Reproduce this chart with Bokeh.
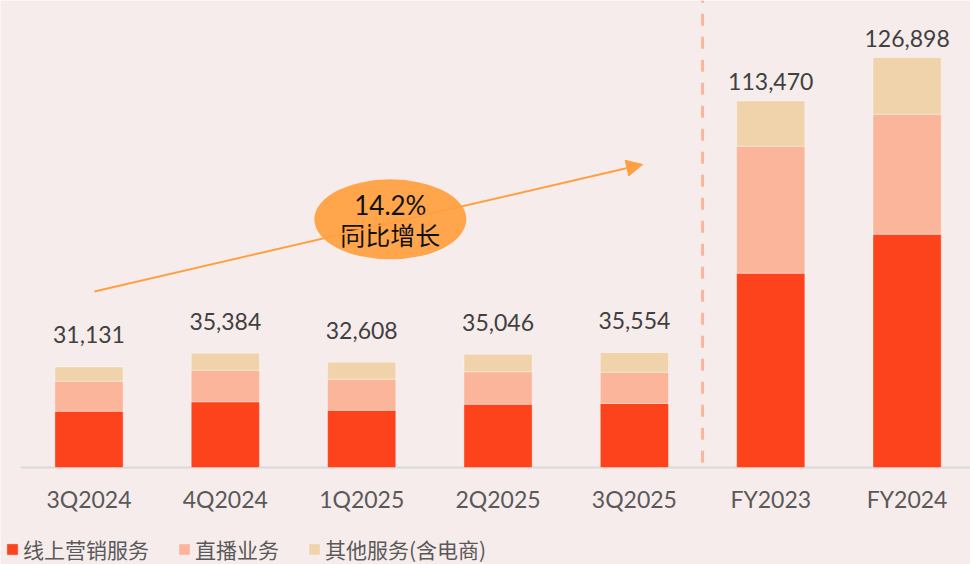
from bokeh.plotting import figure
from bokeh.models import (ColumnDataSource, Range1d, FixedTicker, Legend, LegendItem,
                          Arrow, NormalHead)
from bokeh.core.properties import value
from bokeh.embed import file_html
from bokeh.resources import INLINE

categories = ["3Q2024", "4Q2024", "1Q2025", "2Q2025", "3Q2025", "FY2023", "FY2024"]
online_marketing = [17430, 20330, 17730, 19590, 19810, 60140, 72210]
live_streaming = [9290, 9780, 9590, 10030, 9690, 39310, 37140]
other_services = [4411, 5274, 5288, 5426, 6054, 14020, 17548]
totals = [31131, 35384, 32608, 35046, 35554, 113470, 126898]
total_labels = ["31,131", "35,384", "32,608", "35,046", "35,554", "113,470", "126,898"]
series_names = ["线上营销服务", "直播业务", "其他服务(含电商)"]
growth_text = ["14.2%", "同比增长"]

colors = ["#fc431b", "#fbb59a", "#f0d3ab"]
BG = "#f7ecec"

x = list(range(len(categories)))
src = ColumnDataSource(dict(x=x, online=online_marketing, live=live_streaming,
                            other=other_services))

p = figure(width=970, height=564, output_backend="svg", toolbar_location=None,
           x_range=Range1d(-0.649, 6.465), y_range=Range1d(-30020, 144540),
           min_border_left=0, min_border_right=0, min_border_top=0,
           min_border_bottom=0, y_axis_location=None)
p.background_fill_color = BG
p.border_fill_color = BG
p.outline_line_color = None
p.grid.visible = False

# baseline
p.segment(x0=[-0.5], y0=[0], x1=[6.465], y1=[0], line_color="#d9d9d9", line_width=2)

renderers = p.vbar_stack(["online", "live", "other"], x="x", width=0.5, source=src,
                         color=colors, line_color="white", line_alpha=0.35, line_width=1)

# value labels
q_idx = [i for i in x if not categories[i].startswith("FY")]
fy_idx = [i for i in x if categories[i].startswith("FY")]
for idx, off in ((q_idx, -32), (fy_idx, -19)):
    lsrc = ColumnDataSource(dict(x=[x[i] for i in idx], y=[totals[i] for i in idx],
                                 t=[total_labels[i] for i in idx]))
    p.text("x", "y", text="t", source=lsrc, text_align="center",
           text_baseline="alphabetic", y_offset=off, text_font=value("Lato"),
           text_font_size="23px", text_color="#404040")

# divider between quarters and full years
p.segment(x0=[4.5], y0=[1500], x1=[4.5], y1=[144540], line_color="#fbb59a",
          line_width=3, line_dash="12 11")

# growth arrow and bubble
ARROW_START = (0.04, 54470)
ARROW_END = (4.06, 93780)
BUBBLE = (2.21, 76800)
p.add_layout(Arrow(x_start=ARROW_START[0], y_start=ARROW_START[1],
                   x_end=ARROW_END[0], y_end=ARROW_END[1],
                   line_color="#ff9f40", line_width=2,
                   end=NormalHead(size=16, fill_color="#ff9f40", line_color="#ff9f40")))
p.ellipse(x=[BUBBLE[0]], y=[BUBBLE[1]], width=152, height=80, width_units="screen",
          height_units="screen", fill_color="#ffa64d", line_color=None)
p.text(x=[BUBBLE[0]], y=[BUBBLE[1]], text=[growth_text[0]], y_offset=-14,
       text_align="center", text_baseline="middle", text_font=value("Lato"),
       text_font_size="26px", text_color="#111111")
p.text(x=[BUBBLE[0]], y=[BUBBLE[1]], text=[growth_text[1]], y_offset=15,
       text_align="center", text_baseline="middle", text_font=value("Noto Sans CJK SC"),
       text_font_size="25px", text_color="#111111")

# x axis drawn at y = 0 inside the frame
ax = p.xaxis[0]
ax.fixed_location = 0
ax.ticker = FixedTicker(ticks=x)
ax.major_label_overrides = {i: c for i, c in zip(x, categories)}
ax.axis_line_color = None
ax.major_tick_line_color = None
ax.minor_tick_line_color = None
ax.major_tick_out = 0
ax.major_tick_in = 0
ax.major_label_standoff = 17
ax.major_label_text_font = "Lato"
ax.major_label_text_font_size = "23px"
ax.major_label_text_color = "#595959"

legend = Legend(items=[LegendItem(label=n, renderers=[r]) for n, r in zip(series_names, renderers)],
                orientation="horizontal", location=(5, 0),
                glyph_width=14, glyph_height=14, label_standoff=4, spacing=28,
                padding=0, margin=0, border_line_color=None,
                background_fill_alpha=0, label_text_font="Noto Sans CJK SC",
                label_text_font_size="21px", label_text_color="#595959")
p.add_layout(legend)

open("out.html", "w").write(file_html(p, INLINE))
